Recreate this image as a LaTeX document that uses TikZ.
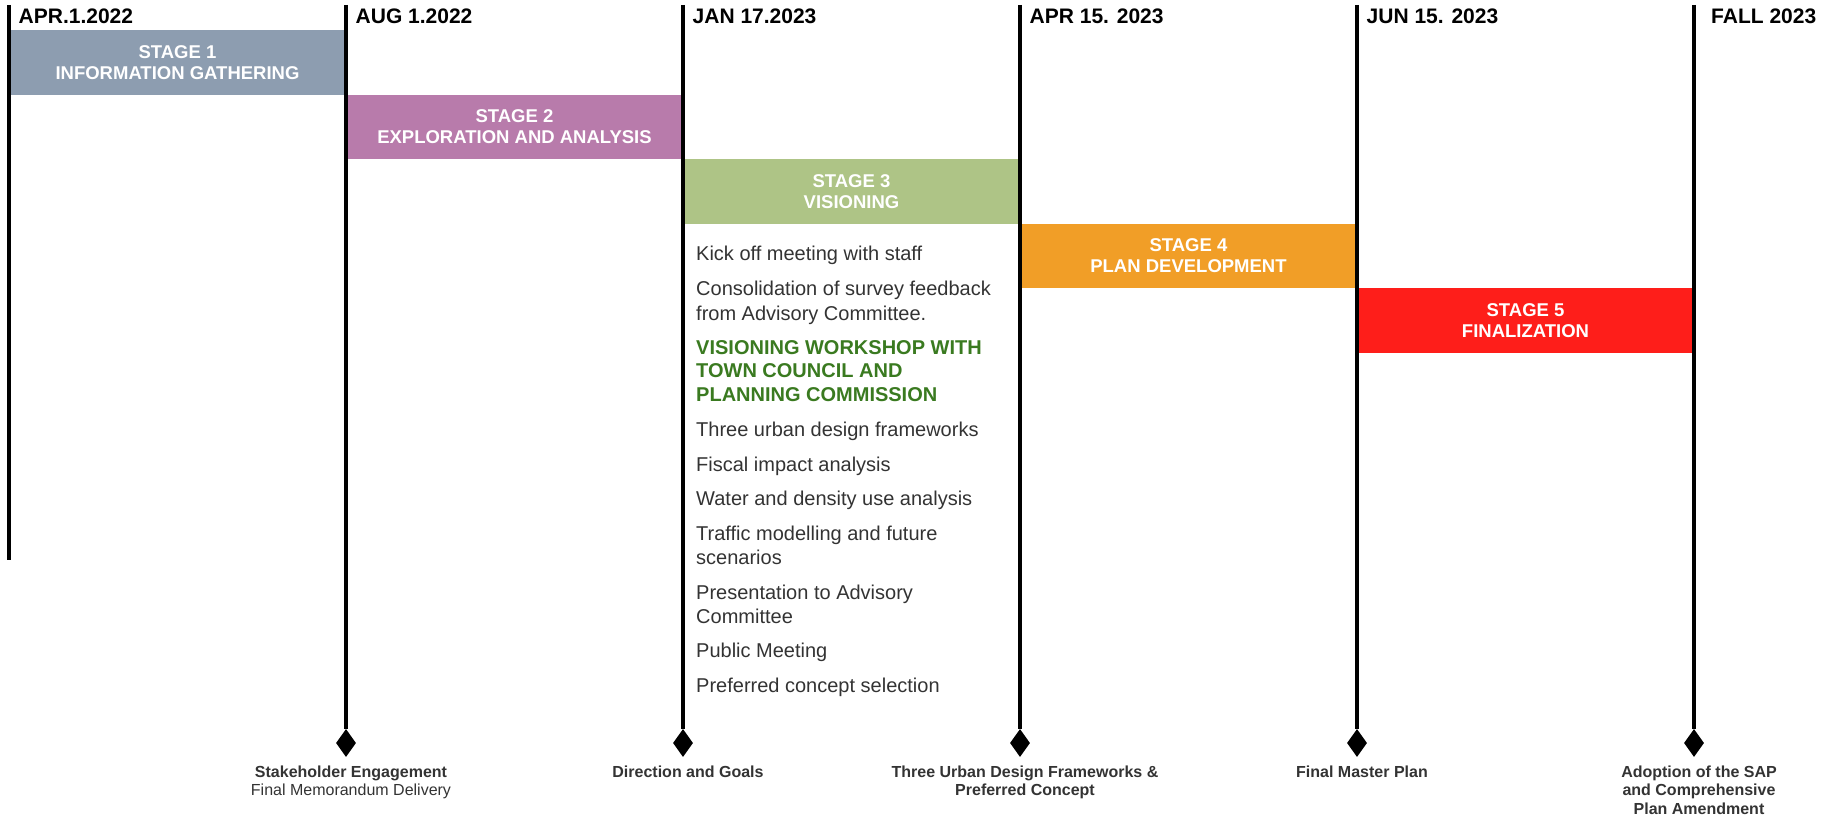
\documentclass[tikz,border=0pt]{standalone}
\usepackage{fontspec}
\setmainfont{Liberation Sans}
\usetikzlibrary{positioning,shapes.geometric}

\definecolor{stgone}{HTML}{8D9DB0}
\definecolor{stgtwo}{HTML}{B87BAB}
\definecolor{stgthree}{HTML}{AEC486}
\definecolor{stgfour}{HTML}{F19E27}
\definecolor{stgfive}{HTML}{FE1E1A}
\definecolor{taskgreen}{HTML}{3A7A20}
\definecolor{txtgray}{HTML}{333333}

\tikzset{
  tline/.style={line width=4pt,black},
  stagebox/.style={rectangle,minimum width=337pt,minimum height=64.6pt,inner sep=0pt,
    text=white,align=center,font=\bfseries\fontsize{18.5}{21}\selectfont},
  datelbl/.style={anchor=base west,inner sep=0pt,font=\bfseries\fontsize{21}{25}\selectfont},
  task/.style={anchor=base west,inner sep=0pt,text=txtgray,font=\fontsize{20}{24}\selectfont},
  keytask/.style={task,text=taskgreen,font=\bfseries\fontsize{20}{24}\selectfont},
  milestone/.style={diamond,fill=black,minimum width=20pt,minimum height=28pt,inner sep=0pt},
  milelbl/.style={inner sep=0pt,align=center,text=txtgray,xshift=5pt,
    font=\bfseries\fontsize{16}{18.6}\selectfont}
}

\begin{document}
\begin{tikzpicture}[x=1pt,y=-1pt]
  \useasboundingbox (0,0) rectangle (1832,816);
  % --- etapas ---
  \node[stagebox,fill=stgone]   (s1) at (177.5,62.3)  {STAGE 1\\INFORMATION GATHERING};
  \node[stagebox,fill=stgtwo]   (s2) at (514.5,126.9) {STAGE 2\\EXPLORATION AND ANALYSIS};
  \node[stagebox,fill=stgthree] (s3) at (851.5,191.5) {STAGE 3\\VISIONING};
  \node[stagebox,fill=stgfour]  (s4) at (1188.5,256.1){STAGE 4\\PLAN DEVELOPMENT};
  \node[stagebox,fill=stgfive]  (s5) at (1525.5,320.7){STAGE 5\\FINALIZATION};
  % --- fechas ---
  \node[datelbl] (d1) at (18.5,24)   {APR.1.2022};
  \node[datelbl] (d2) at (355.5,24)  {AUG 1.2022};
  \node[datelbl] (d3) at (692.5,24)  {JAN 17.2023};
  \node[datelbl] (d4) at (1029.5,24) {APR 15. 2023};
  \node[datelbl] (d5) at (1366.5,24) {JUN 15. 2023};
  \node[datelbl] (d6) at (1711,24)   {FALL 2023};
  % --- hitos ---
  \coordinate (top1) at (9,5);    \coordinate (end1) at (9,560);
  \coordinate (top2) at (346,5);  \node[milestone] (m2) at (346,743) {};
  \coordinate (top3) at (683,5);  \node[milestone] (m3) at (683,743) {};
  \coordinate (top4) at (1020,5); \node[milestone] (m4) at (1020,743) {};
  \coordinate (top5) at (1357,5); \node[milestone] (m5) at (1357,743) {};
  \coordinate (top6) at (1694,5); \node[milestone] (m6) at (1694,743) {};
  \draw[tline] (top1) -- (end1);
  \draw[tline] (top2) -- (m2);
  \draw[tline] (top3) -- (m3);
  \draw[tline] (top4) -- (m4);
  \draw[tline] (top5) -- (m5);
  \draw[tline] (top6) -- (m6);
  \node[milelbl,below=8pt of m2] (l2) {Stakeholder Engagement\\\mdseries Final Memorandum Delivery};
  \node[milelbl,below=8pt of m3] (l3) {Direction and Goals};
  \node[milelbl,below=8pt of m4] (l4) {Three Urban Design Frameworks \&\\Preferred Concept};
  \node[milelbl,below=8pt of m5] (l5) {Final Master Plan};
  \node[milelbl,below=8pt of m6] (l6) {Adoption of the SAP\\and Comprehensive\\Plan Amendment};
  % --- tareas etapa 3 ---
  \node[task]    (t1)  at (696,260.7) {Kick off meeting with staff};
  \node[task]    (t2a) at (696,295.8) {Consolidation of survey feedback};
  \node[task]    (t2b) at (696,320.2) {from Advisory Committee.};
  \node[keytask] (t3a) at (696,354.2) {VISIONING WORKSHOP WITH};
  \node[keytask] (t3b) at (696,377.6) {TOWN COUNCIL AND};
  \node[keytask] (t3c) at (696,401.2) {PLANNING COMMISSION};
  \node[task]    (t4)  at (696,436.2) {Three urban design frameworks};
  \node[task]    (t5)  at (696,471.2) {Fiscal impact analysis};
  \node[task]    (t6)  at (696,505.2) {Water and density use analysis};
  \node[task]    (t7a) at (696,540.2) {Traffic modelling and future};
  \node[task]    (t7b) at (696,564.2) {scenarios};
  \node[task]    (t8a) at (696,599)   {Presentation to Advisory};
  \node[task]    (t8b) at (696,623)   {Committee};
  \node[task]    (t9)  at (696,657)   {Public Meeting};
  \node[task]    (t10) at (696,692)   {Preferred concept selection};
\end{tikzpicture}
\end{document}
